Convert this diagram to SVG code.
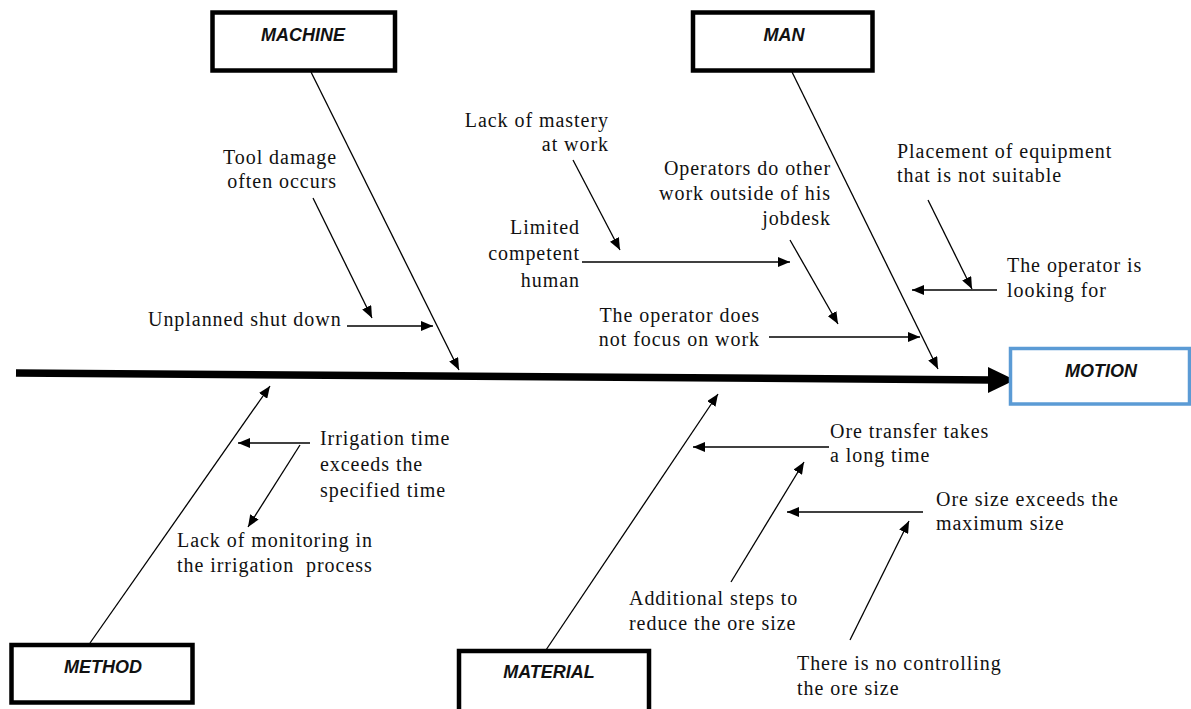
<svg xmlns="http://www.w3.org/2000/svg" width="1191" height="709" viewBox="0 0 1191 709">
<defs>
<marker id="ah" markerUnits="userSpaceOnUse" markerWidth="13" markerHeight="10" refX="12" refY="5" orient="auto">
<path d="M0,0 L12,5 L0,10 z" fill="#000"/>
</marker>
<style>
.box{fill:#fff;stroke:#000;stroke-width:4.5}
.lbl{font-family:"Liberation Sans",Arial,sans-serif;font-weight:bold;font-style:italic;font-size:18px;text-anchor:middle;fill:#111}
.t{font-family:"Liberation Serif","Times New Roman",serif;font-size:20px;letter-spacing:0.95px;fill:#111}
.r{text-anchor:end}
.pre{white-space:pre}
.c line{stroke:#000;stroke-width:1.3;marker-end:url(#ah)}
</style>
</defs>
<rect width="1191" height="709" fill="#fff"/>

<g id="connectors" class="c">
<path d="M16,373 L992,380" stroke="#000" stroke-width="7.5" fill="none"/>
<polygon points="988,367 1015,380 988,393" fill="#000"/>
<line x1="311" y1="72" x2="459" y2="370"/>
<line x1="313" y1="198" x2="372" y2="318"/>
<line x1="347" y1="326" x2="433" y2="326"/>
<line x1="792" y1="72" x2="938" y2="369"/>
<line x1="573" y1="160" x2="620" y2="250"/>
<line x1="582" y1="262" x2="790" y2="262"/>
<line x1="790" y1="240" x2="838" y2="324"/>
<line x1="769" y1="337" x2="920" y2="337"/>
<line x1="928" y1="200" x2="972" y2="289"/>
<line x1="997" y1="290" x2="912" y2="290"/>
<line x1="90" y1="643" x2="270" y2="386"/>
<line x1="310" y1="443" x2="238" y2="443"/>
<line x1="300" y1="445" x2="248" y2="527"/>
<line x1="546" y1="650" x2="718" y2="394"/>
<line x1="829" y1="447" x2="693" y2="447"/>
<line x1="731" y1="582" x2="804" y2="462"/>
<line x1="923" y1="512" x2="787" y2="512"/>
<line x1="850" y1="640" x2="909" y2="521"/>
</g>

<g id="machine">
<rect class="box" x="212.5" y="12.5" width="182.5" height="58"/>
<text class="lbl" x="303" y="41">MACHINE</text>
</g>
<g id="man">
<rect class="box" x="693" y="12.5" width="179.5" height="58"/>
<text class="lbl" x="784" y="41">MAN</text>
</g>
<g id="motion">
<rect x="1010.5" y="348.5" width="179" height="55.5" fill="#fff" stroke="#5b9bd5" stroke-width="3.5"/>
<text class="lbl" x="1101" y="377">MOTION</text>
</g>
<g id="method">
<rect class="box" x="11.5" y="645" width="181" height="57.5"/>
<text class="lbl" x="103" y="673">METHOD</text>
</g>
<g id="material">
<rect class="box" x="459" y="651" width="190" height="70"/>
<text class="lbl" x="549" y="678">MATERIAL</text>
</g>

<g id="cause-tool-damage">
<text class="t r" x="337" y="164">Tool damage</text>
<text class="t r" x="337" y="188">often occurs</text>
</g>
<g id="cause-unplanned">
<text class="t" x="148" y="326">Unplanned shut down</text>
</g>
<g id="cause-lack-mastery">
<text class="t r" x="609" y="127">Lack of mastery</text>
<text class="t r" x="609" y="151">at work</text>
</g>
<g id="cause-limited">
<text class="t r" x="580" y="234">Limited</text>
<text class="t r" x="580" y="260">competent</text>
<text class="t r" x="580" y="287">human</text>
</g>
<g id="cause-other-work">
<text class="t r" x="831" y="175">Operators do other</text>
<text class="t r" x="831" y="200">work outside of his</text>
<text class="t r" x="831" y="225">jobdesk</text>
</g>
<g id="cause-not-focus">
<text class="t r" x="760" y="322">The operator does</text>
<text class="t r" x="760" y="346">not focus on work</text>
</g>
<g id="cause-placement">
<text class="t" x="897" y="158">Placement of equipment</text>
<text class="t" x="897" y="182">that is not suitable</text>
</g>
<g id="cause-looking">
<text class="t" x="1007" y="272">The operator is</text>
<text class="t" x="1007" y="297">looking for</text>
</g>
<g id="cause-irrigation">
<text class="t" x="320" y="445">Irrigation time</text>
<text class="t" x="320" y="471">exceeds the</text>
<text class="t" x="320" y="497">specified time</text>
</g>
<g id="cause-monitoring">
<text class="t" x="177" y="547">Lack of monitoring in</text>
<text class="t pre" x="177" y="572">the irrigation  process</text>
</g>
<g id="cause-ore-transfer">
<text class="t" x="830" y="438">Ore transfer takes</text>
<text class="t" x="830" y="462">a long time</text>
</g>
<g id="cause-ore-size">
<text class="t" x="936" y="506">Ore size exceeds the</text>
<text class="t" x="936" y="530">maximum size</text>
</g>
<g id="cause-additional">
<text class="t" x="629" y="605">Additional steps to</text>
<text class="t" x="629" y="630">reduce the ore size</text>
</g>
<g id="cause-no-control">
<text class="t" x="797" y="670">There is no controlling</text>
<text class="t" x="797" y="695">the ore size</text>
</g>
</svg>
